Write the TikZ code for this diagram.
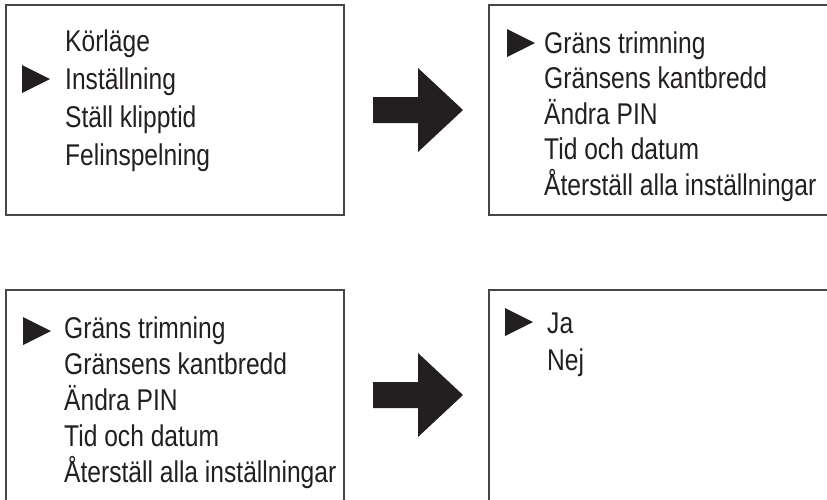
\documentclass[tikz,border=0pt]{standalone}
\usepackage{fontspec}
\setmainfont{Liberation Sans}[FakeStretch=0.82]
\definecolor{ink}{RGB}{35,31,32}
\definecolor{frame}{RGB}{70,70,70}
\tikzset{
  menubox/.style={draw=frame, line width=1.3pt},
  item/.style={anchor=base west, inner sep=0pt, font=\fontsize{30}{36}\selectfont, text=ink},
  marker/.style={fill=ink},
  bigarrow/.style={fill=ink}
}
\begin{document}
\begin{tikzpicture}[x=1pt,y=-1pt]
\useasboundingbox (0,0) rectangle (827,499);
\clip (0,0) rectangle (827,499);
% boxes
\draw[menubox] (6,5) rectangle (344,215);
\draw[menubox] (489,5) rectangle (840,215);
\draw[menubox] (6,290) rectangle (344,520);
\draw[menubox] (489,290) rectangle (840,520);
% top-left menu
\node[item] (a1) at (65,51) {Körläge};
\node[item] (a2) at (65,89) {Inställning};
\node[item] (a3) at (65,127) {Ställ klipptid};
\node[item] (a4) at (65,165) {Felinspelning};
\fill[marker] (22,65) -- (50,79) -- (22,93) -- cycle;
% top-right menu
\node[item] (b1) at (544,53) {Gräns trimning};
\node[item] (b2) at (544,88) {Gränsens kantbredd};
\node[item] (b3) at (544,124) {Ändra PIN};
\node[item] (b4) at (544,159) {Tid och datum};
\node[item] (b5) at (544,195) {Återställ alla inställningar};
\fill[marker] (507,29) -- (535,43) -- (507,57) -- cycle;
% bottom-left menu
\node[item] (c1) at (64,338) {Gräns trimning};
\node[item] (c2) at (64,374) {Gränsens kantbredd};
\node[item] (c3) at (64,410) {Ändra PIN};
\node[item] (c4) at (64,446) {Tid och datum};
\node[item] (c5) at (64,482) {Återställ alla inställningar};
\fill[marker] (23,317) -- (51,331) -- (23,345) -- cycle;
% bottom-right menu
\node[item] (d1) at (547,333) {Ja};
\node[item] (d2) at (547,370) {Nej};
\fill[marker] (505,308) -- (533,322) -- (505,336) -- cycle;
% big arrows
\fill[bigarrow] (373,97) -- (418,97) -- (418,68) -- (463,110) -- (418,152) -- (418,123) -- (373,123) -- cycle;
\fill[bigarrow] (373,382) -- (418,382) -- (418,353) -- (463,395) -- (418,437) -- (418,408) -- (373,408) -- cycle;
\end{tikzpicture}
\end{document}
